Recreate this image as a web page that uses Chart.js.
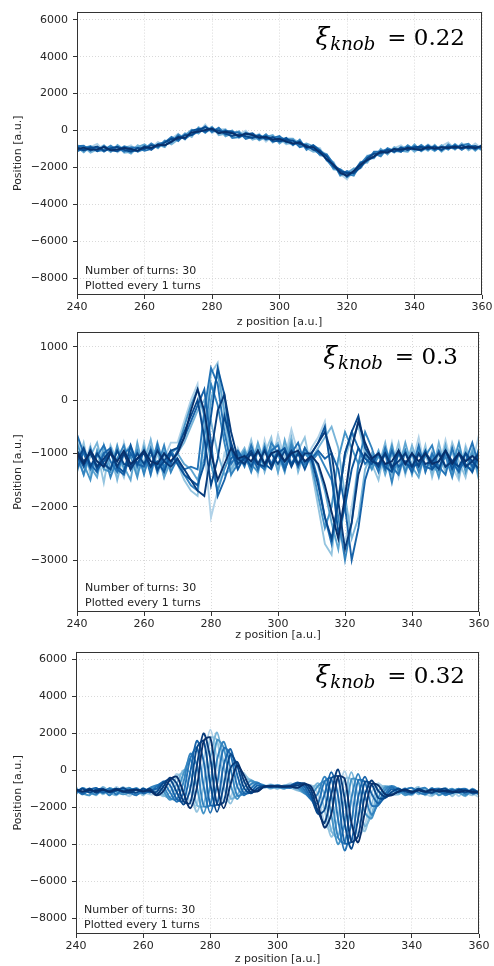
<!DOCTYPE html>
<html>
<head>
<meta charset="utf-8">
<script src="https://cdn.jsdelivr.net/npm/chart.js@4.4.0/dist/chart.umd.min.js"></script>
<style>
  body { margin: 0; background: #fff; width: 494px; height: 966px; position: relative; overflow: hidden; }
  canvas { position: absolute; left: 0; }
</style>
</head>
<body>
<canvas id="p1" width="494" height="330" style="top:0px"></canvas>
<canvas id="p2" width="494" height="325" style="top:320px"></canvas>
<canvas id="p3" width="494" height="326" style="top:640px"></canvas>
<script>
// z positions shared by all turns
const zPos = [240,242,244,246,248,250,252,254,256,258,260,262,264,266,268,270,272,274,276,278,280,282,284,286,288,290,292,294,296,298,300,302,304,306,308,310,312,314,316,318,320,322,324,326,328,330,332,334,336,338,340,342,344,346,348,350,352,354,356,358,360];
const zTicks = [240, 260, 280, 300, 320, 340, 360];
const yTicksWide = [-8000, -6000, -4000, -2000, 0, 2000, 4000, 6000];
const yTicksNarrow = [-3000, -2000, -1000, 0, 1000];
const knobValues = ['0.22', '0.3', '0.32'];
const noteLines = ['Number of turns: 30', 'Plotted every 1 turns'];

// xi_knob = 0.22
const turns022 = [
  [-750,-1130,-900,-720,-1100,-870,-1180,-950,-800,-1150, -800,-950,-620,-850,-450,-170,-500,0,-120,330, -140,50,80,-350,-200,-10,-400,-180,-600,-300, -450,-750,-500,-600,-1000,-900,-950,-1650,-1700,-2350, -2650,-2100,-2000,-1350,-1400,-1050,-1250,-950,-800,-1100, -800,-1080,-750,-970,-850,-650,-1030,-750,-970,-700,-980],
  [-1100,-880,-1200,-1020,-800,-1120,-830,-1200,-1150,-800, -1050,-750,-970,-600,-750,-470,-150,-350,180,-20, 210,-250,-170,0,-400,-160,-500,-380,-250,-650, -400,-700,-700,-550,-950,-1150,-1100,-1300,-2100,-2150, -2550,-2300,-1700,-1750,-1200,-1300,-1000,-1200,-950,-850, -1150,-880,-1100,-770,-1150,-850,-1030,-700,-1070,-850,-1080],
  [-900,-1180,-850,-1070,-900,-1170,-780,-1050,-1250,-900, -750,-1000,-770,-900,-400,-520,-250,50,-170,180, -40,100,-320,-150,-50,-410,-200,-530,-350,-250, -700,-450,-450,-800,-700,-850,-1350,-1400,-1750,-2450, -2300,-2050,-2050,-1500,-1500,-1000,-1300,-900,-1100,-1150, -750,-1130,-900,-1120,-800,-1050,-730,-1000,-770,-1100,-780],
  [-1150,-930,-850,-1120,-1050,-820,-1080,-850,-950,-1150, -1000,-700,-920,-550,-650,-220,-450,-200,130,-120, 160,-100,30,-400,-350,-110,-250,-480,-200,-550, -350,-500,-800,-500,-1050,-800,-1050,-1600,-2050,-2100, -2350,-2450,-1800,-1400,-1250,-1400,-950,-1100,-1150,-800, -1050,-780,-1050,-820,-1100,-750,-980,-800,-720,-1050,-780],
  [-850,-830,-1100,-920,-1150,-920,-930,-1150,-900,-950, -1100,-1000,-720,-650,-350,-570,-200,-250,-70,230, -90,150,-220,-100,-100,-460,-350,-230,-500,-400, -300,-650,-550,-900,-800,-1000,-1300,-1300,-1800,-2400, -2200,-2350,-1950,-1650,-1150,-1150,-1000,-1150,-900,-1050, -850,-1030,-800,-1070,-900,-1000,-780,-1050,-820,-850,-1030],
  [-1050,-1030,-900,-1120,-850,-1070,-1130,-900,-1100,-1100, -850,-1050,-770,-800,-600,-320,-450,0,80,-70, 110,-150,-20,-50,-350,-210,-150,-430,-300,-600, -550,-400,-750,-600,-950,-800,-1100,-1600,-1850,-2150, -2500,-2200,-1750,-1600,-1450,-1100,-1150,-1000,-1150,-900, -1000,-1080,-850,-1020,-900,-950,-830,-950,-870,-1000,-830],
  [-900,-1080,-950,-870,-1100,-970,-880,-1050,-1150,-950, -1000,-800,-870,-650,-450,-470,-250,-250,30,180, 10,0,-170,-300,-200,-310,-400,-280,-450,-350, -600,-500,-550,-750,-800,-1050,-1100,-1400,-1950,-2200, -2300,-2300,-2000,-1500,-1250,-1250,-1050,-1150,-950,-1050, -900,-880,-1000,-870,-1050,-850,-980,-800,-970,-850,-930],
  [-1000,-930,-1050,-1020,-900,-1070,-1030,-950,-1000,-1100, -900,-950,-770,-800,-600,-370,-400,-100,-70,30, 110,-150,-70,-150,-300,-160,-250,-380,-350,-500, -450,-600,-700,-650,-900,-900,-1200,-1550,-1850,-2300, -2450,-2200,-1850,-1600,-1400,-1150,-1200,-1000,-1050,-950, -1000,-1030,-900,-970,-900,-950,-880,-950,-870,-950,-830]
];

// xi_knob = 0.3
const turns030 = [
  [-650,-1250,-850,-1400,-950,-1200,-1450,-800,-1300,-1000,-1350,-750,-1400,-1100,-800, -800,-400,0,300,-900,-2200,-1700,-1000,-1300,-900,-1200, -900,-1400,-750,-1250,-650,-1100,-550,-1000,-1250, -900,-700,-400,-1300,-2200,-2700,-2000,-1200,-900,-1300, -950,-1350,-800,-1450,-1000,-1200,-700,-1350,-950,-1300,-750,-1250,-1500,-850,-1200,-650],
  [-1250,-800,-1400,-950,-1550,-850,-1150,-1450,-900,-1350,-800,-1400,-1000,-1450,-950, -1200,-1500,-1700,-1800,-600,500,700,-300,-1400,-1000,-1200, -750,-1250,-1000,-700,-1350,-850,-1250,-950,-700, -1300,-2000,-2700,-2900,-1800,-1100,-700,-500,-1000,-1200, -1500,-900,-1250,-800,-1400,-950,-1300,-850,-1450,-1000,-1350,-800,-1150,-1450,-900,-1300],
  [-950,-1400,-1050,-800,-1300,-900,-1500,-1000,-850,-1350,-1150,-750,-1300,-950,-1350, -1000,-800,-500,-200,0,-400,-1000,-1400,-1300,-1100,-900, -1250,-850,-1350,-950,-800,-1200,-700,-1350,-950, -1100,-900,-700,-500,-900,-1800,-2600,-2200,-1300,-1000, -1250,-800,-1400,-1000,-1300,-850,-1250,-1000,-1400,-800,-1300,-950,-1450,-900,-1350,-1050],
  [-1350,-950,-1250,-1450,-850,-1300,-950,-1250,-1500,-800,-1350,-1050,-900,-1450,-1150, -1000,-1200,-1300,-1500,-1100,0,500,-200,-1000,-1300,-1050, -1300,-800,-1200,-900,-1350,-750,-1200,-950,-1250, -1000,-1250,-1700,-2300,-2800,-1900,-900,-400,-900,-1250, -950,-1400,-1000,-1300,-800,-1250,-1450,-950,-1250,-1350,-850,-1400,-1000,-1300,-950,-1500],
  [-800,-1200,-1500,-950,-1300,-1350,-850,-1300,-1050,-1450,-900,-1300,-800,-1250,-1000, -900,-500,-100,200,-300,-1200,-1700,-1300,-1000,-1150,-950, -1200,-1350,-850,-1250,-1000,-1350,-800,-1200,-900, -1200,-1800,-2400,-2000,-1100,-600,-900,-1200,-1050,-1300, -1050,-1300,-850,-1350,-950,-1400,-900,-1300,-1050,-1450,-950,-1250,-800,-1350,-1000,-1400],
  [-1050,-1400,-900,-1250,-1000,-1450,-1100,-850,-1300,-950,-1400,-900,-1250,-850,-1350, -1100,-1400,-1600,-1700,-700,300,-100,-800,-1400,-1200,-1000, -1350,-950,-1250,-800,-1000,-1300,-850,-1250,-1000, -1150,-1000,-1250,-1500,-2200,-3000,-2300,-1200,-600,-900, -1300,-1000,-1550,-950,-1350,-1000,-1350,-1050,-850,-1300,-1050,-1450,-950,-1250,-1300,-900],
  [-650,-1000,-1300,-1050,-850,-1150,-1350,-1000,-900,-1250,-950,-1400,-850,-1300,-950, -1150,-1300,-1250,-1300,-200,600,300,-600,-1200,-1000,-1250, -850,-1200,-1300,-950,-850,-1250,-1000,-800,-1200, -1050,-1500,-2200,-2700,-1900,-1000,-600,-900,-1200,-1050, -1350,-900,-1250,-1400,-950,-1300,-850,-1350,-1000,-1250,-1400,-900,-1300,-1150,-800,-1250],
  [-1300,-950,-1200,-1350,-1000,-900,-1300,-1400,-1000,-1200,-1250,-950,-1350,-1000,-1200, -950,-700,-400,-100,200,-800,-1800,-1500,-1100,-950,-1150, -1000,-1300,-900,-1200,-950,-1300,-1000,-1250,-900, -1100,-950,-1100,-1000,-1300,-2000,-3000,-2400,-1500,-1100, -1000,-1300,-950,-1250,-1150,-1350,-1000,-1250,-1300,-950,-1250,-1150,-1350,-1000,-1250,-950],
  [-1000,-1250,-950,-1300,-1150,-1000,-1250,-1350,-850,-1200,-950,-1250,-1150,-1350,-1000, -1200,-1400,-1500,-1600,-1200,-300,600,100,-900,-1300,-1050, -1250,-950,-1200,-1300,-1000,-900,-1200,-1000,-1300, -1000,-800,-500,-1400,-2500,-2000,-1300,-900,-1100,-1200, -1000,-1250,-1350,-1000,-1200,-1250,-1200,-950,-1300,-1150,-950,-1300,-1000,-1200,-1350,-1000],
  [-1150,-900,-1250,-1000,-1200,-1300,-950,-1200,-1250,-1000,-1200,-950,-1300,-1150,-950, -900,-600,-300,0,-700,-1600,-1100,-300,-800,-1200,-1100, -950,-1200,-1250,-1000,-1200,-950,-1250,-1000,-1150, -1100,-1600,-2200,-2600,-1900,-1000,-600,-300,-900,-1100, -1250,-1000,-1300,-950,-1200,-1000,-1250,-1000,-1150,-1300,-950,-1150,-1250,-1000,-1150,-1300],
  [-950,-1150,-1000,-1250,-1100,-950,-1250,-1000,-1300,-1100,-1000,-1250,-950,-1150,-1250, -1100,-1300,-1500,-1700,-1800,-1000,-200,100,-600,-1100,-1200, -1000,-1200,-950,-1250,-1000,-1150,-950,-1200,-1000, -1000,-800,-600,-1000,-1900,-2800,-2300,-1400,-1000,-1150, -1200,-1000,-1250,-1150,-1000,-1250,-1000,-1200,-1150,-1000,-1250,-1150,-1000,-1250,-1150,-1000],
  [-1000,-1200,-950,-1150,-1250,-1000,-1150,-950,-1200,-1100,-950,-1150,-1200,-1000,-1150, -1000,-700,-200,200,-200,-1000,-1500,-1200,-900,-1100,-1050, -1150,-950,-1200,-1000,-950,-1150,-1000,-950,-1150, -1050,-1200,-1600,-2100,-2600,-1800,-900,-400,-800,-1100, -1000,-1200,-1150,-950,-1200,-1000,-1150,-1000,-1200,-1150,-950,-1200,-1000,-1150,-1050,-1150]
];

// xi_knob = 0.32
const turns032 = [
  [-900,-1300,-950,-1250,-1000,-1350,-900,-1200,-1400,-1000,-1150,-1300, -1300,-1320,-810,-200,-640,-1770,-1880,500,2200,570,-1710,-1520,-240,-150,-760,-1100, -900,-750,-950,-850,-700, -1060,-890,-800,-1270,-2840,-3270,-1350,-50,-1530,-3550,-3020,-1260,-700,-1070,-1300, -1300,-950,-1350,-1000,-1250,-1400,-950,-1300,-1050,-1400,-1000,-1250,-1450],
  [-1000,-1250,-1350,-950,-1300,-1050,-1250,-900,-1300,-1050,-1350,-1000, -1160,-1400,-1190,-340,-180,-1030,-2250,-840,1770,1640,-810,-1800,-860,-260,-570,-980, -850,-1000,-800,-900,-950, -1100,-1060,-880,-860,-2150,-3600,-2600,-460,-490,-2620,-3300,-1890,-810,-910,-1180, -950,-1300,-1100,-900,-1350,-1050,-1300,-1000,-1400,-1050,-1200,-1350,-1100],
  [-1300,-950,-1150,-1350,-900,-1200,-1350,-1050,-950,-1300,-950,-1200, -990,-1320,-1490,-720,0,-120,-1880,-1930,650,2050,310,-1520,-1360,-560,-500,-820, -950,-850,-1000,-800,-900, -1060,-1200,-1080,-700,-1300,-3270,-3620,-1530,-100,-1480,-3020,-2400,-1110,-850,-1020, -1300,-1050,-950,-1300,-1000,-1350,-1150,-950,-1250,-1200,-1400,-1050,-1200],
  [-1000,-1200,-1350,-1000,-1250,-950,-1150,-1300,-1200,-950,-1250,-1050, -850,-1120,-1600,-1180,-180,620,-920,-2340,-750,1640,1210,-780,-1550,-940,-570,-700, -800,-950,-900,-1000,-850, -950,-1250,-1320,-860,-610,-2390,-4000,-2870,-490,-550,-2280,-2600,-1490,-910,-900, -1050,-1350,-1150,-1000,-1250,-950,-1350,-1150,-1000,-1200,-1350,-1000,-1250],
  [-1250,-950,-1200,-1300,-1050,-1350,-1000,-1150,-950,-1300,-1150,-950, -800,-880,-1490,-1560,-640,900,270,-1930,-1870,570,1550,130,-1360,-1240,-760,-650, -900,-800,-850,-950,-900, -810,-1200,-1520,-1270,-350,-1310,-3620,-3940,-1530,-200,-1370,-2400,-1790,-1070,-850, -1000,-1250,-1300,-1050,-950,-1250,-1100,-1350,-1150,-1000,-1300,-1150,-1300],
  [-1050,-1300,-1000,-1200,-1150,-1000,-1300,-1000,-1200,-1350,-1000,-1200, -850,-680,-1190,-1700,-1210,620,1230,-840,-2300,-770,1210,870,-860,-1350,-990,-700, -850,-900,-800,-900,-950, -690,-1060,-1600,-1780,-610,-430,-2600,-4350,-2820,-550,-630,-1890,-1900,-1280,-900, -1200,-1050,-950,-1200,-1300,-1050,-1000,-1250,-1250,-1050,-1000,-1250,-1200],
  [-1000,-1250,-1050,-950,-1200,-1100,-1000,-1200,-1050,-1000,-1250,-1100, -990,-600,-810,-1560,-1670,-120,1600,500,-1870,-1840,310,1150,-240,-1240,-1180,-820, -900,-850,-900,-850,-800, -650,-890,-1520,-2190,-1300,-100,-1350,-3940,-3860,-1480,-350,-1260,-1790,-1440,-1020, -1150,-1000,-1250,-1050,-1200,-1000,-1150,-1250,-1050,-1200,-1050,-1250,-1150],
  [-1150,-1000,-1200,-1050,-1000,-1200,-1100,-950,-1150,-1200,-1000,-1150, -1160,-680,-510,-1180,-1850,-1030,1230,1590,-750,-2250,-810,870,260,-940,-1250,-980, -850,-900,-850,-900,-850, -690,-750,-1320,-2350,-2150,-430,-340,-2870,-4250,-2620,-630,-750,-1490,-1500,-1180, -1000,-1150,-1200,-1000,-1150,-1200,-1050,-1000,-1200,-1100,-1200,-1050,-1200],
  [-1050,-1150,-1000,-1200,-1050,-1150,-1000,-1150,-1200,-1050,-1150,-1000, -1300,-880,-400,-720,-1670,-1770,270,2000,650,-1840,-1710,130,450,-560,-1180,-1100, -900,-850,-850,-900,-850, -810,-700,-1080,-2190,-2840,-1310,50,-1530,-3860,-3550,-1370,-550,-1110,-1440,-1300, -1150,-1050,-1200,-1050,-1150,-1200,-1050,-1150,-1200,-1050,-1100,-1200,-1150],
  [-1050,-1150,-1080,-1120,-1050,-1150,-1050,-1130,-1080,-1050,-1130,-1100, -1350,-1120,-510,-340,-1210,-2050,-920,1590,1770,-770,-2050,-780,260,-260,-990,-1150, -880,-860,-880,-870,-880, -950,-750,-880,-1780,-3100,-2390,-340,-460,-2820,-3900,-2280,-750,-810,-1280,-1350, -1150,-1050,-1150,-1100,-1150,-1050,-1150,-1100,-1150,-1180,-1100,-1150,-1200]
];

// Blues colormap, light to dark
const blues = ['#b0d2e8','#94c4df','#79b5d9','#5ea5d1','#4594c7','#3383bf','#2373b6','#1763a9','#0b559c','#08488c','#083c7c','#08306b'];

Chart.defaults.font.family = '"DejaVu Sans", sans-serif';
Chart.defaults.font.size = 11;
Chart.defaults.color = '#262626';

function minusFmt(v) {
  return v < 0 ? '\u2212' + Math.abs(v) : String(v);
}

const decorations = {
  id: 'decorations',
  afterDatasetsDraw(chart, args, opts) {
    const {ctx, chartArea: a} = chart;
    ctx.save();
    // full box like matplotlib spines
    ctx.strokeStyle = '#333';
    ctx.lineWidth = 1;
    ctx.strokeRect(Math.round(a.left) + 0.5, Math.round(a.top) + 0.5,
                   Math.round(a.right) - Math.round(a.left) - 1, Math.round(a.bottom) - Math.round(a.top) - 1);

    ctx.fillStyle = '#222';
    ctx.font = '11px "DejaVu Sans"';
    ctx.textAlign = 'left';
    ctx.textBaseline = 'alphabetic';
    ctx.fillText(noteLines[0], a.left + 8, a.bottom - 21);
    ctx.fillText(noteLines[1], a.left + 8, a.bottom - 6.5);

    // xi_knob = value
    ctx.fillStyle = '#000';
    ctx.textAlign = 'right';
    const txt = '= ' + opts.value;
    ctx.font = '23px "DejaVu Serif"';
    ctx.fillText(txt, opts.right, opts.base);
    let x = opts.right - ctx.measureText(txt).width - 12;
    ctx.font = 'italic 18px "DejaVu Serif"';
    ctx.fillText('knob', x, opts.base + 5);
    x -= ctx.measureText('knob').width + 1;
    ctx.font = 'italic 25px "DejaVu Serif"';
    ctx.fillText('\u03be', x, opts.base);
    ctx.restore();
  }
};

function makePanel(id, turns, yTicks, yMin, yMax, box) {
  const n = turns.length;
  const datasets = turns.map((ys, i) => ({
    data: ys.map((y, j) => ({x: zPos[j], y: y})),
    borderColor: blues[Math.round(i * (blues.length - 1) / (n - 1))],
    borderWidth: 1.9,
    pointRadius: 0,
    tension: box.tension,
    fill: false,
    order: n - i
  }));
  const grid = {color: '#cfcfcf', lineWidth: 0.8, drawTicks: true, tickLength: 4, tickColor: '#333', tickWidth: 1};
  const border = {display: false, dash: [1, 2]};
  new Chart(document.getElementById(id), {
    type: 'line',
    data: {datasets},
    options: {
      responsive: false,
      animation: false,
      events: [],
      layout: {padding: {top: box.top, right: box.right, left: 0, bottom: 0}},
      plugins: {
        legend: {display: false},
        tooltip: {enabled: false},
        decorations: {value: box.value, right: box.knobRight, base: box.knobBase}
      },
      scales: {
        x: {
          type: 'linear', min: 240, max: 360,
          afterBuildTicks: s => { s.ticks = zTicks.map(v => ({value: v})); },
          afterFit: s => { s.height = box.xAxisH; },
          grid: grid, border: border,
          ticks: {padding: 1.5, maxRotation: 0, autoSkip: false, callback: v => String(v)},
          title: {display: true, text: 'z position [a.u.]', padding: {top: 0, bottom: box.titlePad}}
        },
        y: {
          type: 'linear', min: yMin, max: yMax,
          afterBuildTicks: s => { s.ticks = yTicks.map(v => ({value: v})); },
          afterFit: s => { s.width = box.yAxisW; },
          grid: grid, border: border,
          ticks: {padding: 5, callback: minusFmt},
          title: {display: true, text: 'Position [a.u.]', padding: {top: 11.4, bottom: 0}}
        }
      }
    },
    plugins: [decorations]
  });
}

makePanel('p1', turns022, yTicksWide, -8913, 6443,
  {top: 9, right: 10, xAxisH: 35, yAxisW: 77, titlePad: 1.7, value: knobValues[0], knobRight: 465, knobBase: 45, tension: 0});
makePanel('p2', turns030, yTicksNarrow, -3975, 1275,
  {top: 12, right: 15, xAxisH: 33, yAxisW: 77, titlePad: 3.4, value: knobValues[1], knobRight: 458, knobBase: 44, tension: 0});
makePanel('p3', turns032, yTicksWide, -8865, 6432,
  {top: 11, right: 15, xAxisH: 32, yAxisW: 76, titlePad: 0, value: knobValues[2], knobRight: 465, knobBase: 43, tension: 0.3});
</script>
</body>
</html>
